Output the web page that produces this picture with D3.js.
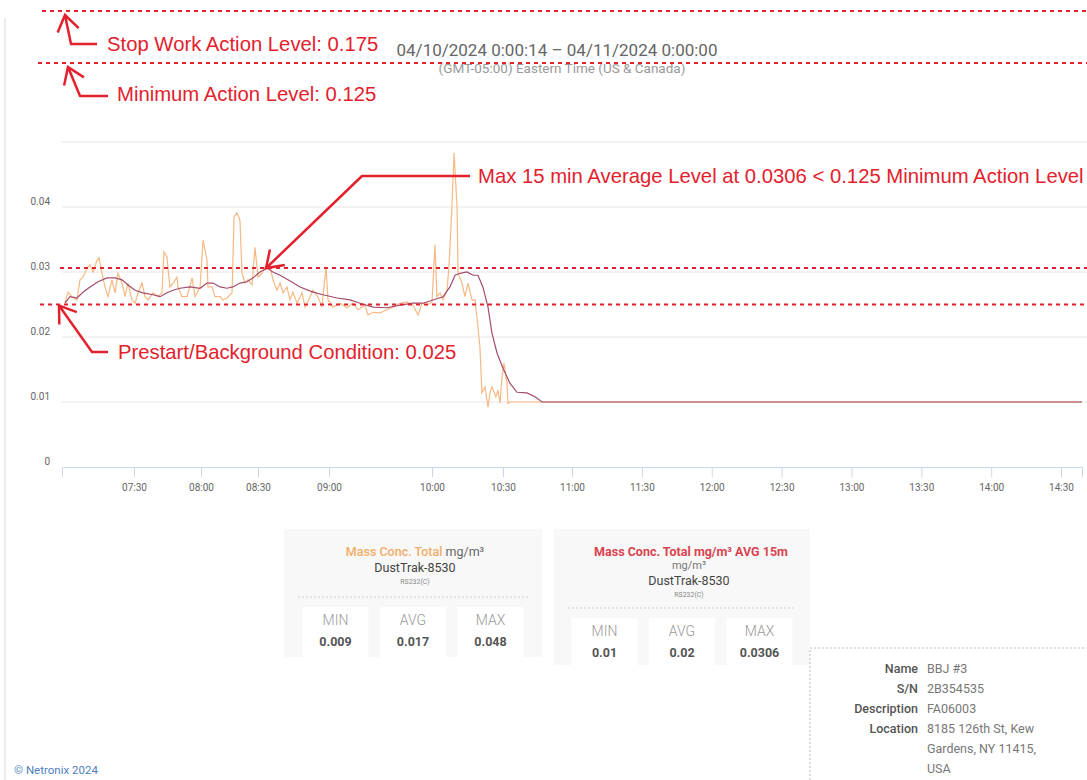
<!DOCTYPE html>
<html>
<head>
<meta charset="utf-8">
<script src="https://cdn.jsdelivr.net/npm/d3@7"></script>
<style>
  body { margin: 0; background: #fff; }
  svg { display: block; font-family: Roboto, "Noto Sans", sans-serif; }
</style>
</head>
<body>
<div id="chart"></div>
<script>
// Mass Conc. Total (raw readings, mg/m³)
const rawSeries = [
  ["07:01:15", 0.0252], ["07:02:30", 0.0269], ["07:04:10", 0.0262], ["07:06:15", 0.0257],
  ["07:07:30", 0.0288], ["07:08:45", 0.0292], ["07:10:25", 0.0306], ["07:11:40", 0.0311],
  ["07:12:55", 0.0300], ["07:14:35", 0.0318], ["07:15:25", 0.0322], ["07:16:40", 0.0298],
  ["07:17:55", 0.0277], ["07:19:10", 0.0262], ["07:20:50", 0.0288], ["07:22:05", 0.0268],
  ["07:23:20", 0.0298], ["07:25:00", 0.0283], ["07:26:15", 0.0262], ["07:27:30", 0.0283],
  ["07:29:10", 0.0257], ["07:30:30", 0.0252], ["07:31:50", 0.0268], ["07:33:35", 0.0283],
  ["07:34:55", 0.0262], ["07:36:15", 0.0257], ["07:38:30", 0.0268], ["07:40:45", 0.0262],
  ["07:42:30", 0.0268], ["07:43:25", 0.0331], ["07:44:45", 0.0323], ["07:46:05", 0.0277],
  ["07:47:30", 0.0283], ["07:49:15", 0.0292], ["07:49:40", 0.0277], ["07:51:30", 0.0262],
  ["07:53:45", 0.0262], ["07:56:00", 0.0291], ["07:57:20", 0.0262], ["07:59:35", 0.0277],
  ["08:01:05", 0.0349], ["08:03:10", 0.0318], ["08:03:40", 0.0277], ["08:05:50", 0.0277],
  ["08:07:20", 0.0262], ["08:10:00", 0.0262], ["08:11:35", 0.0257], ["08:13:40", 0.0260],
  ["08:16:20", 0.0268], ["08:17:25", 0.0385], ["08:18:55", 0.0391], ["08:20:30", 0.0380],
  ["08:21:35", 0.0298], ["08:23:10", 0.0283], ["08:24:45", 0.0288], ["08:26:50", 0.0280],
  ["08:28:25", 0.0338], ["08:30:00", 0.0292], ["08:31:40", 0.0298], ["08:33:00", 0.0308],
  ["08:35:05", 0.0308], ["08:36:20", 0.0288], ["08:38:00", 0.0272], ["08:39:20", 0.0283],
  ["08:40:35", 0.0268], ["08:42:15", 0.0277], ["08:43:30", 0.0257], ["08:44:45", 0.0269],
  ["08:46:30", 0.0252], ["08:48:35", 0.0268], ["08:49:55", 0.0246], ["08:52:00", 0.0262],
  ["08:53:15", 0.0272], ["08:55:20", 0.0262], ["08:57:00", 0.0246], ["08:58:45", 0.0308],
  ["08:59:35", 0.0257], ["09:02:20", 0.0246], ["09:06:25", 0.0252], ["09:10:30", 0.0245],
  ["09:14:00", 0.0252], ["09:16:55", 0.0242], ["09:21:00", 0.0249], ["09:22:40", 0.0234],
  ["09:25:40", 0.0238], ["09:29:40", 0.0237], ["09:33:45", 0.0242], ["09:37:15", 0.0246],
  ["09:41:20", 0.0252], ["09:45:25", 0.0254], ["09:48:55", 0.0249], ["09:51:50", 0.0234],
  ["09:54:10", 0.0252], ["09:57:05", 0.0249], ["10:00:00", 0.0254], ["10:01:15", 0.0342],
  ["10:02:05", 0.0262], ["10:03:25", 0.0268], ["10:04:40", 0.0257], ["10:06:20", 0.0272],
  ["10:07:10", 0.0308], ["10:08:25", 0.0400], ["10:09:20", 0.0483], ["10:10:35", 0.0400],
  ["10:11:00", 0.0298], ["10:12:40", 0.0283], ["10:13:55", 0.0262], ["10:15:10", 0.0283],
  ["10:16:55", 0.0257], ["10:18:10", 0.0257], ["10:19:25", 0.0215], ["10:20:15", 0.0185],
  ["10:21:05", 0.0114], ["10:22:25", 0.0123], ["10:23:40", 0.0092], ["10:24:30", 0.0114],
  ["10:25:20", 0.0123], ["10:27:00", 0.0108], ["10:27:55", 0.0118], ["10:28:45", 0.0098],
  ["10:29:35", 0.0138], ["10:30:25", 0.0160], ["10:31:45", 0.0129], ["10:32:10", 0.0098],
  ["10:33:00", 0.0100], ["14:39:00", 0.0100]
];

// Mass Conc. Total AVG 15m
const avgSeries = [
  ["07:01:15", 0.0252], ["07:03:20", 0.0262], ["07:06:15", 0.0260], ["07:08:45", 0.0269],
  ["07:11:40", 0.0277], ["07:15:00", 0.0285], ["07:18:45", 0.0291], ["07:22:05", 0.0291],
  ["07:25:00", 0.0288], ["07:27:30", 0.0280], ["07:30:30", 0.0272], ["07:34:00", 0.0268],
  ["07:38:30", 0.0265], ["07:41:40", 0.0262], ["07:44:45", 0.0268], ["07:47:30", 0.0272],
  ["07:50:35", 0.0275], ["07:55:05", 0.0277], ["07:59:35", 0.0275], ["08:03:10", 0.0283],
  ["08:06:20", 0.0283], ["08:10:00", 0.0277], ["08:13:40", 0.0275], ["08:16:50", 0.0277],
  ["08:20:30", 0.0283], ["08:24:10", 0.0285], ["08:27:25", 0.0291], ["08:30:50", 0.0300],
  ["08:33:50", 0.0306], ["08:36:20", 0.0300], ["08:39:20", 0.0295], ["08:42:40", 0.0288],
  ["08:47:45", 0.0277], ["08:53:15", 0.0269], ["08:57:30", 0.0265], ["09:04:40", 0.0260],
  ["09:12:15", 0.0257], ["09:18:05", 0.0252], ["09:25:40", 0.0246], ["09:33:45", 0.0245],
  ["09:41:20", 0.0249], ["09:48:55", 0.0252], ["09:54:45", 0.0252], ["10:00:25", 0.0257],
  ["10:04:40", 0.0262], ["10:07:35", 0.0277], ["10:09:45", 0.0295], ["10:11:50", 0.0298],
  ["10:14:45", 0.0300], ["10:17:20", 0.0295], ["10:19:25", 0.0295], ["10:21:30", 0.0277],
  ["10:23:40", 0.0246], ["10:25:20", 0.0206], ["10:27:30", 0.0175], ["10:30:00", 0.0152],
  ["10:33:00", 0.0129], ["10:36:05", 0.0115], ["10:40:25", 0.0114], ["10:43:55", 0.0108],
  ["10:47:00", 0.0100], ["14:39:00", 0.0100]
];

const xTickLabels = ["07:30", "08:00", "08:30", "09:00", "10:00", "10:30", "11:00",
  "11:30", "12:00", "12:30", "13:00", "13:30", "14:00", "14:30"];
// ordinal-style axis: gaps in the data are squeezed, so the scale is piecewise
const axisBreaks = ["07:00", "07:30", "08:00", "08:30", "09:00", "10:00", "10:30", "11:00", "14:39"];
const axisStops = [0, 72, 139, 196, 267, 370, 441, 510, 1020];
const yTickValues = [0, 0.01, 0.02, 0.03, 0.04];
const gridValues = [0.01, 0.02, 0.03, 0.04, 0.05];

const plotLevels = [
  { label: "Max 15 min Average Level at 0.0306 < 0.125 Minimum Action Level", value: 0.0306, at: "08:33:50" },
  { label: "Prestart/Background Condition: 0.025", value: 0.025, at: "07:01:15" }
];
const actionLevels = [
  { label: "Stop Work Action Level: 0.175", value: 0.175 },
  { label: "Minimum Action Level: 0.125", value: 0.125 }
];

const rawStats = [["MIN", "0.009"], ["AVG", "0.017"], ["MAX", "0.048"]];
const avgStats = [["MIN", "0.01"], ["AVG", "0.02"], ["MAX", "0.0306"]];
const deviceInfo = [
  ["Name", ["BBJ #3"]],
  ["S/N", ["2B354535"]],
  ["Description", ["FA06003"]],
  ["Location", ["8185 126th St, Kew", "Gardens, NY 11415,", "USA"]]
];

const W = 1087, H = 780;
const RED = "#e3212d";
const parseT = d3.timeParse("%H:%M:%S");
const parseHM = d3.timeParse("%H:%M");

const svg = d3.select("#chart").append("svg").attr("width", W).attr("height", H);

// page edge
svg.append("line").attr("x1", 5).attr("x2", 5).attr("y1", 18).attr("y2", H)
  .attr("stroke", "#e6e6e6").attr("stroke-width", 1.5);

// titles
svg.append("text").attr("x", 557).attr("y", 56).attr("text-anchor", "middle")
  .attr("font-size", "17px").attr("fill", "#666")
  .text("04/10/2024 0:00:14 \u2013 04/11/2024 0:00:00");
svg.append("text").attr("x", 562).attr("y", 73).attr("text-anchor", "middle")
  .attr("font-size", "13.5px").attr("fill", "#999")
  .text("(GMT-05:00) Eastern Time (US & Canada)");

// plot area
const margin = { left: 62, top: 142 };
const width = 1020, height = 325;
const g = svg.append("g").attr("transform", `translate(${margin.left},${margin.top})`);

const x = d3.scaleTime().domain(axisBreaks.map(parseHM)).range(axisStops);
const y = d3.scaleLinear().domain([0, 0.05]).range([height, 0]);

g.selectAll(".grid").data(gridValues).enter().append("line")
  .attr("class", "grid")
  .attr("x1", 0).attr("x2", W - margin.left)
  .attr("y1", d => y(d)).attr("y2", d => y(d))
  .attr("stroke", "#e6e6e6");

g.selectAll(".ylab").data(yTickValues).enter().append("text")
  .attr("class", "ylab")
  .attr("x", -12).attr("y", d => y(d) - 5)
  .attr("text-anchor", "end").attr("dominant-baseline", "middle")
  .attr("font-size", "10px").attr("fill", "#666")
  .text(d => d === 0 ? "0" : d3.format(".2f")(d));

const xAxis = g.append("g").attr("transform", `translate(0,${height})`)
  .call(d3.axisBottom(x).tickValues(xTickLabels.map(parseHM))
    .tickFormat(d3.timeFormat("%H:%M")).tickSize(10).tickPadding(7));
xAxis.select(".domain").attr("stroke", "#ccd6eb");
xAxis.selectAll(".tick line").attr("stroke", "#ccd6eb");
xAxis.selectAll(".tick text").attr("fill", "#666").attr("font-size", "10px")
  .attr("font-family", "Roboto, sans-serif");

const line = d3.line().x(d => x(parseT(d[0]))).y(d => y(d[1]));

g.append("path").datum(rawSeries).attr("d", line)
  .attr("fill", "none").attr("stroke", "#f6b983").attr("stroke-width", 1.2);
g.append("path").datum(avgSeries).attr("d", line)
  .attr("fill", "none").attr("stroke", "#a44c6a").attr("stroke-width", 1.2);

// annotations
const ann = svg.append("g").attr("font-family", "'Liberation Sans', Arial, sans-serif");

function arrow(points) {
  ann.append("path").attr("d", d3.line()(points))
    .attr("fill", "none").attr("stroke", RED).attr("stroke-width", 2.5)
    .attr("stroke-linejoin", "round");
  const a = points[points.length - 2], b = points[points.length - 1];
  const ang = Math.atan2(b[1] - a[1], b[0] - a[0]);
  const L = 19, s = 0.6;
  const p1 = [b[0] - L * Math.cos(ang - s), b[1] - L * Math.sin(ang - s)];
  const p2 = [b[0] - L * Math.cos(ang + s), b[1] - L * Math.sin(ang + s)];
  ann.append("path").attr("d", d3.line()([p1, b, p2]))
    .attr("fill", "none").attr("stroke", RED).attr("stroke-width", 2.5)
    .attr("stroke-linejoin", "miter");
}

function dashed(yPos, x0) {
  ann.append("line").attr("x1", x0).attr("x2", W).attr("y1", yPos).attr("y2", yPos)
    .attr("stroke", RED).attr("stroke-width", 2).attr("stroke-dasharray", "4,4");
}

function label(txt, x0, yb) {
  ann.append("text").attr("x", x0).attr("y", yb).attr("font-size", "20.3px")
    .attr("fill", RED).text(txt);
}

// action levels sit above the plot, on their own band
const act = d3.scaleLinear().domain([0.125, 0.175]).range([63, 11]);
const stop = actionLevels[0], minimum = actionLevels[1];
dashed(act(stop.value), 42);
dashed(act(minimum.value), 38);
label(stop.label, 107, act(stop.value) + 40);
label(minimum.label, 117, act(minimum.value) + 38);
arrow([[97, act(stop.value) + 33], [71, act(stop.value) + 33], [65, act(stop.value) + 4]]);
arrow([[108, act(minimum.value) + 33], [80, act(minimum.value) + 33], [68, act(minimum.value) + 4]]);

const maxLvl = plotLevels[0], pre = plotLevels[1];
const yMax = margin.top + y(maxLvl.value), yPre = margin.top + y(pre.value);
dashed(yMax, 60);
dashed(yPre, 40);
label(maxLvl.label, 478, 183);
label(pre.label, 118, 359);
arrow([[470, 176], [362, 176], [margin.left + x(parseT(maxLvl.at)) - 1, yMax]]);
arrow([[108, 352], [92, 352], [margin.left + x(parseT(pre.at)) - 6, yPre + 1]]);

// summary cards
function card(cx, top, h, w, head, stats, cellTop, cellH) {
  const c = svg.append("g");
  c.append("rect").attr("x", cx - w / 2).attr("y", top).attr("width", w).attr("height", h)
    .attr("fill", "#f8f8f8");
  head(c);
  c.append("line").attr("x1", cx - w / 2 + 14).attr("x2", cx + w / 2 - 14)
    .attr("y1", cellTop - 10).attr("y2", cellTop - 10)
    .attr("stroke", "#cfcfcf").attr("stroke-dasharray", "2,2");
  const step = 77.5;
  stats.forEach((s, i) => {
    const sx = cx + (i - 1) * step;
    c.append("rect").attr("x", sx - 33).attr("y", cellTop).attr("width", 66).attr("height", cellH)
      .attr("fill", "#fff");
    c.append("text").attr("x", sx).attr("y", cellTop + 18).attr("text-anchor", "middle")
      .attr("font-size", "14px").attr("font-weight", 300).attr("fill", "#999").text(s[0]);
    c.append("text").attr("x", sx).attr("y", cellTop + 39).attr("text-anchor", "middle")
      .attr("font-size", "12.5px").attr("font-weight", "bold").attr("fill", "#555").text(s[1]);
  });
}

card(413, 529, 128, 258, c => {
  const t = c.append("text").attr("x", 415).attr("y", 556).attr("text-anchor", "middle")
    .attr("font-size", "12.5px");
  t.append("tspan").attr("fill", "#f2ad68").attr("font-weight", 500).text("Mass Conc. Total");
  t.append("tspan").attr("fill", "#666").text(" mg/m\u00b3");
  c.append("text").attr("x", 415).attr("y", 572).attr("text-anchor", "middle")
    .attr("font-size", "12.5px").attr("fill", "#444").text("DustTrak-8530");
  c.append("text").attr("x", 415).attr("y", 584).attr("text-anchor", "middle")
    .attr("font-size", "7px").attr("fill", "#888").text("RS232(C)");
}, rawStats, 607, 50);

card(682, 529, 136, 256, c => {
  c.append("text").attr("x", 691).attr("y", 556).attr("text-anchor", "middle")
    .attr("font-size", "12.5px").attr("font-weight", "bold").attr("fill", "#d9434f")
    .text("Mass Conc. Total mg/m\u00b3 AVG 15m");
  c.append("text").attr("x", 689).attr("y", 569).attr("text-anchor", "middle")
    .attr("font-size", "11px").attr("fill", "#777").text("mg/m\u00b3");
  c.append("text").attr("x", 689).attr("y", 585).attr("text-anchor", "middle")
    .attr("font-size", "12.5px").attr("fill", "#444").text("DustTrak-8530");
  c.append("text").attr("x", 689).attr("y", 597).attr("text-anchor", "middle")
    .attr("font-size", "7px").attr("fill", "#888").text("RS232(C)");
}, avgStats, 618, 47);

// device info
svg.append("path").attr("d", `M810,${H}V648H${W}`)
  .attr("fill", "none").attr("stroke", "#bbb").attr("stroke-dasharray", "2,2");
let row = 0;
deviceInfo.forEach(([k, vals]) => {
  const yb = 673 + row * 20;
  svg.append("text").attr("x", 918).attr("y", yb).attr("text-anchor", "end")
    .attr("font-size", "12.5px").attr("font-weight", 500).attr("fill", "#555").text(k);
  vals.forEach((v, j) => {
    svg.append("text").attr("x", 927).attr("y", yb + j * 20)
      .attr("font-size", "12.5px").attr("fill", "#777").text(v);
  });
  row += vals.length;
});

svg.append("text").attr("x", 14).attr("y", 774).attr("font-size", "11.5px")
  .attr("fill", "#4f7fc0").text("\u00a9 Netronix 2024");
</script>
</body>
</html>
